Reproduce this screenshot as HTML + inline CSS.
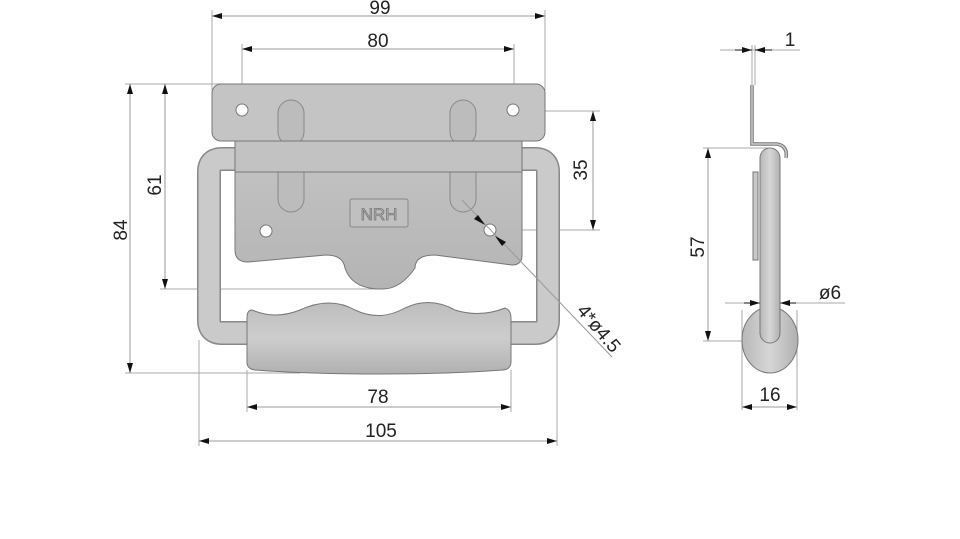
<!DOCTYPE html>
<html><head><meta charset="utf-8"><style>
html,body{margin:0;padding:0;background:#fff;}
svg{display:block;}
text{font-family:"Liberation Sans",sans-serif;font-size:19px;fill:#222;}
</style></head><body>
<svg width="960" height="539" viewBox="0 0 960 539" xmlns="http://www.w3.org/2000/svg">
<defs>
<linearGradient id="g" x1="0" y1="0" x2="0" y2="1"><stop offset="0" stop-color="#c4c4c4"/><stop offset="1" stop-color="#b4b4b4"/></linearGradient>
<linearGradient id="grip" x1="0" y1="0" x2="0" y2="1"><stop offset="0" stop-color="#bdbdbd"/><stop offset="0.5" stop-color="#cdcdcd"/><stop offset="1" stop-color="#b0b0b0"/></linearGradient>
<linearGradient id="tv" x1="0" y1="0" x2="1" y2="0"><stop offset="0" stop-color="#b8b8b8"/><stop offset="0.5" stop-color="#d6d6d6"/><stop offset="1" stop-color="#b0b0b0"/></linearGradient>
<marker id="a" viewBox="0 0 10 6" refX="10" refY="3" markerWidth="10" markerHeight="6" orient="auto-start-reverse" markerUnits="userSpaceOnUse"><path d="M0,0 L10,3 L0,6z" fill="#111"/></marker>
</defs>
<g stroke="#aaa" stroke-width="1" fill="none">
<line x1="212" y1="10" x2="212" y2="90"/><line x1="545" y1="10" x2="545" y2="90"/>
<line x1="242" y1="44" x2="242" y2="105"/><line x1="514" y1="44" x2="514" y2="105"/>
<line x1="125" y1="84" x2="230" y2="84"/><line x1="125" y1="373" x2="300" y2="373"/>
<line x1="160" y1="289" x2="381" y2="289"/>
<line x1="518" y1="111" x2="600" y2="111"/><line x1="495" y1="230" x2="600" y2="230"/>
<line x1="247" y1="370" x2="247" y2="412"/><line x1="511" y1="370" x2="511" y2="412"/>
<line x1="199" y1="340" x2="199" y2="446"/><line x1="557" y1="330" x2="557" y2="446"/>
</g>
<path d="M238,159 H222 Q209,159 209,172 V320 Q209,333 222,333 H250" stroke="#888" stroke-width="24" fill="none"/>
<path d="M238,159 H222 Q209,159 209,172 V320 Q209,333 222,333 H250" stroke="#cacaca" stroke-width="21" fill="none"/>
<path d="M520,159 H535 Q548,159 548,172 V320 Q548,333 535,333 H508" stroke="#888" stroke-width="24" fill="none"/>
<path d="M520,159 H535 Q548,159 548,172 V320 Q548,333 535,333 H508" stroke="#cacaca" stroke-width="21" fill="none"/>
<path d="M235,141 H522 V255 Q522,265 512,265 L435,255 Q415,255 415,268 Q400,290 381,289 Q352,289 345,268 Q343,255 326,255 L248,262 Q235,262 235,250 Z" fill="url(#g)" stroke="#777" stroke-width="1"/>
<rect x="212" y="84" width="333" height="57" rx="9" fill="#c4c4c4" stroke="#777"/>
<rect x="278" y="100" width="26" height="45" rx="13" fill="#bcbcbc" stroke="#888"/>
<rect x="450" y="100" width="26" height="45" rx="13" fill="#bcbcbc" stroke="#888"/>
<rect x="278" y="160" width="26" height="52" rx="13" fill="#bcbcbc" stroke="#888"/>
<rect x="450" y="160" width="26" height="52" rx="13" fill="#bcbcbc" stroke="#888"/>
<rect x="235" y="141" width="287" height="31" fill="#c2c2c2" stroke="#777"/>
<g fill="#fff" stroke="#777"><circle cx="242" cy="110" r="6"/><circle cx="513" cy="110" r="6"/><circle cx="266" cy="231" r="6"/><circle cx="490" cy="230" r="6"/></g>
<rect x="350" y="199" width="58" height="28" rx="2" fill="#c0c0c0" stroke="#888"/>
<text x="379" y="220" text-anchor="middle" style="font-size:17px;fill:#bbb;stroke:#777;stroke-width:0.8">NRH</text>
<path d="M252,310 Q275,320 300,310 Q330,296 355,310 Q380,322 405,308 Q430,296 455,310 Q480,318 505,308 Q511,310 511,318 V362 Q511,369 503,370 Q450,374 380,374 Q310,374 255,370 Q247,369 247,362 V318 Q247,310 252,310Z" fill="url(#grip)" stroke="#777"/>
<line x1="462" y1="200" x2="612" y2="357" stroke="#999" stroke-width="1"/>
<g fill="#111">
<path d="M485,225 L474,219 L478,215Z"/><path d="M495,236 L506,242 L502,246Z"/>
</g>
<g stroke="#999" stroke-width="1" marker-start="url(#a)" marker-end="url(#a)">
<line x1="212" y1="16" x2="545" y2="16"/>
<line x1="242" y1="49" x2="514" y2="49"/>
<line x1="130" y1="84" x2="130" y2="373"/>
<line x1="165" y1="84" x2="165" y2="289"/>
<line x1="593" y1="111" x2="593" y2="230"/>
<line x1="247" y1="407" x2="511" y2="407"/>
<line x1="199" y1="441" x2="557" y2="441"/>
<line x1="708" y1="148" x2="708" y2="341"/>
</g>
<text x="380" y="14" text-anchor="middle">99</text>
<text x="378" y="47" text-anchor="middle">80</text>
<text transform="translate(127,230) rotate(-90)" text-anchor="middle">84</text>
<text transform="translate(161,185) rotate(-90)" text-anchor="middle">61</text>
<text transform="translate(587,170) rotate(-90)" text-anchor="middle">35</text>
<text x="378" y="403" text-anchor="middle">78</text>
<text x="381" y="437" text-anchor="middle">105</text>
<text transform="translate(576,311) rotate(50)">4*ø4.5</text>
<g stroke="#aaa" fill="none">
<line x1="720" y1="50" x2="800" y2="50"/>
<line x1="752" y1="45" x2="752" y2="85"/><line x1="755" y1="45" x2="755" y2="85"/>
<line x1="703" y1="148" x2="770" y2="148"/><line x1="703" y1="341" x2="770" y2="341"/>
<line x1="725" y1="303" x2="845" y2="303"/>
<line x1="742" y1="310" x2="742" y2="410"/><line x1="797" y1="310" x2="797" y2="410"/>
</g>
<g stroke="#111" stroke-width="1" fill="#111">
<path d="M735,50 L752,50" marker-end="url(#a)"/><path d="M772,50 L755,50" marker-end="url(#a)"/>
<path d="M744,303 L760,303" marker-end="url(#a)"/><path d="M796,303 L780,303" marker-end="url(#a)"/>
</g>
<g stroke="#999" marker-start="url(#a)" marker-end="url(#a)"><line x1="742" y1="407" x2="797" y2="407"/></g>
<path d="M752,85 V144 H777 Q788,146 786,158" stroke="#777" stroke-width="3.5" fill="none"/>
<path d="M752,85 V144 H777 Q788,146 786,158" stroke="#ccc" stroke-width="1.5" fill="none"/>
<ellipse cx="770" cy="340" rx="28" ry="33" fill="url(#tv)" stroke="#777"/>
<rect x="753" y="172" width="5" height="88" fill="#c8c8c8" stroke="#777"/>
<rect x="760" y="148" width="20" height="195" rx="10" fill="url(#tv)" stroke="#777"/>
<text x="790" y="46" text-anchor="middle">1</text>
<text transform="translate(704,247) rotate(-90)" text-anchor="middle">57</text>
<text x="830" y="299" text-anchor="middle">ø6</text>
<text x="770" y="401" text-anchor="middle">16</text>
</svg>
</body></html>
